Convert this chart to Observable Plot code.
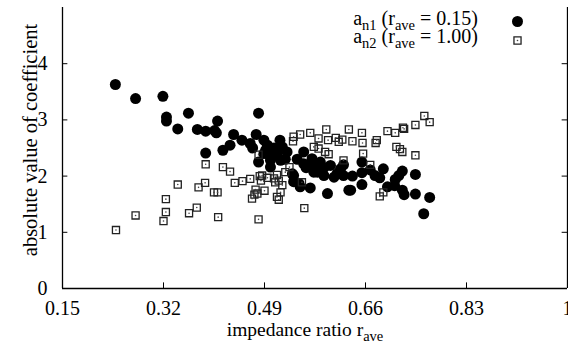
<!DOCTYPE html>
<html>
<head>
<meta charset="utf-8">
<script src="https://cdn.jsdelivr.net/npm/d3@7"></script>
<script src="https://cdn.jsdelivr.net/npm/@observablehq/plot@0.6"></script>
<style>
  html, body { margin: 0; padding: 0; background: #fff; overflow: hidden; }
  svg { display: block; }
</style>
</head>
<body>
<div id="chart"></div>
<script>
// ---- data ----
const an1R = [0.239,0.273,0.319,0.325,0.325,0.362,0.344,0.377,0.391,0.411,0.406,0.409,0.438,0.432,0.420,0.391,0.452,0.480,0.476,0.466,0.489,0.516,0.492,0.506,0.528,0.480,0.500,0.511,0.556,0.556,0.570,0.584,0.601,0.618,0.573,0.590,0.607,0.623,0.539,0.539,0.550,0.567,0.596,0.632,0.500,0.489,0.511,0.517,0.537,0.548,0.573,0.579,0.612,0.470,0.495,0.520,0.500,0.525,0.545,0.560,0.590,0.654,0.654,0.668,0.690,0.676,0.684,0.722,0.716,0.710,0.744,0.623,0.638,0.635,0.654,0.697,0.709,0.722,0.725,0.744,0.768,0.758];
const an1V = [3.63,3.38,3.42,3.05,2.98,3.12,2.84,2.83,2.80,2.98,2.81,2.77,2.74,2.55,2.46,2.41,2.64,3.12,2.74,2.58,2.64,2.64,2.46,2.50,2.43,2.25,2.28,2.37,2.43,2.22,2.31,2.25,2.19,2.13,2.07,2.01,1.98,2.01,2.01,1.90,1.81,1.79,1.69,1.75,2.16,2.40,2.40,2.28,2.04,1.87,2.19,2.07,2.04,2.50,2.55,2.52,2.35,2.30,2.30,2.15,2.15,2.25,2.06,2.11,2.13,2.01,1.97,2.09,2.01,1.94,2.03,2.20,2.00,1.75,1.85,1.81,1.83,1.75,1.67,1.68,1.62,1.33];
const an2R = [0.240,0.273,0.320,0.324,0.324,0.344,0.363,0.376,0.379,0.390,0.391,0.405,0.411,0.412,0.420,0.432,0.440,0.453,0.466,0.469,0.473,0.475,0.478,0.480,0.480,0.482,0.486,0.484,0.490,0.495,0.506,0.508,0.511,0.514,0.511,0.514,0.517,0.520,0.525,0.532,0.538,0.539,0.550,0.553,0.557,0.567,0.573,0.581,0.581,0.592,0.594,0.597,0.598,0.610,0.615,0.621,0.623,0.632,0.638,0.654,0.655,0.656,0.668,0.677,0.679,0.684,0.690,0.697,0.710,0.712,0.718,0.722,0.723,0.725,0.744,0.744,0.759,0.768];
const an2V = [1.04,1.30,1.20,1.36,1.59,1.85,1.34,1.44,1.80,1.88,2.21,1.71,1.71,1.27,2.16,2.08,1.88,1.91,1.95,1.60,1.67,1.76,1.69,2.38,1.23,2.00,2.01,1.92,1.74,1.97,1.96,1.89,2.02,1.92,1.63,1.58,1.71,1.84,2.07,2.16,2.62,2.70,2.74,1.89,1.43,2.77,2.52,2.67,2.49,2.43,2.83,2.64,2.39,2.68,2.61,2.65,2.28,2.83,2.62,2.77,2.59,2.40,2.20,2.59,2.64,1.64,1.71,2.80,2.77,2.52,2.48,2.43,2.86,2.84,2.91,2.37,3.07,2.96];
const xTicks = [0.15, 0.32, 0.49, 0.66, 0.83, 1];
const xTickLabels = ["0.15", "0.32", "0.49", "0.66", "0.83", "1"];
const yTicks = [0, 1, 2, 3, 4];
const yTickLabels = ["0", "1", "2", "3", "4"];
const xDomain = [0.15, 1];
const yDomain = [0, 5];

const an1 = an1R.map((r, i) => ({r, v: an1V[i]}));
const an2 = an2R.map((r, i) => ({r, v: an2V[i]}));

const FONT = "'Liberation Serif', 'DejaVu Serif', serif";
const tickLenX = 0.009 * (xDomain[1] - xDomain[0]) / 0.85;
const tickLenY = 0.1;

const plot = Plot.plot({
  width: 568,
  height: 353,
  marginLeft: 62,
  marginRight: 1,
  marginTop: 7,
  marginBottom: 65,
  x: {domain: xDomain},
  y: {domain: yDomain},
  style: {fontFamily: FONT, fontSize: "20px", color: "#000", background: "#fff", overflow: "visible"},
  marks: [
    // frame lines (left, right, bottom)
    Plot.ruleX([xDomain[0], xDomain[1]], {stroke: "#000", strokeWidth: 1.3}),
    Plot.ruleY([yDomain[0]], {stroke: "#000", strokeWidth: 1.3}),
    // inward ticks
    Plot.ruleX(xTicks, {x: d => d, y1: yDomain[0], y2: yDomain[0] + tickLenY, stroke: "#000", strokeWidth: 1}),
    Plot.ruleY(yTicks, {y: d => d, x1: xDomain[0], x2: xDomain[0] + tickLenX, stroke: "#000", strokeWidth: 1}),
    Plot.ruleY(yTicks, {y: d => d, x1: xDomain[1] - tickLenX, x2: xDomain[1], stroke: "#000", strokeWidth: 1}),
    Plot.axisX(xTicks, {tickSize: 0, tickPadding: 12, tickFormat: (d, i) => xTickLabels[i], label: null, fontSize: 20}),
    Plot.axisY(yTicks, {tickSize: 0, tickPadding: 15, tickFormat: (d, i) => yTickLabels[i], label: null, fontSize: 20}),
    // data
    Plot.dot(an1, {x: "r", y: "v", r: 5.5, fill: "#000", stroke: "none"}),
    Plot.dot(an2, {x: "r", y: "v", r: 4, symbol: "square", fill: "none", stroke: "#222", strokeWidth: 1.3}),
    Plot.dot(an2, {x: "r", y: "v", r: 0.8, fill: "#444", stroke: "none"}),
    // legend markers
    Plot.dot([0], {frameAnchor: "top-right", dx: -50, dy: 14, r: 5.5, fill: "#000", stroke: "none"}),
    Plot.dot([0], {frameAnchor: "top-right", dx: -50, dy: 33, r: 4, symbol: "square", fill: "none", stroke: "#222", strokeWidth: 1.3}),
    Plot.dot([0], {frameAnchor: "top-right", dx: -50, dy: 33, r: 0.8, fill: "#444", stroke: "none"})
  ]
});

document.getElementById("chart").appendChild(plot);

const svg = d3.select(plot);
const g = svg.append("g").attr("font-family", FONT).attr("fill", "#000");

function subText(parent, parts, x, y, anchor, size, subSize) {
  const t = parent.append("text").attr("x", x).attr("y", y).attr("text-anchor", anchor).attr("font-size", size);
  let shifted = false;
  parts.forEach(([s, sub]) => {
    const ts = t.append("tspan").text(s);
    if (sub && !shifted) { ts.attr("dy", 5).attr("font-size", subSize); shifted = true; }
    else if (!sub && shifted) { ts.attr("dy", -5); shifted = false; }
  });
  return t;
}

// y-axis label
g.append("text")
  .attr("transform", "translate(37,140) rotate(-90)")
  .attr("text-anchor", "middle")
  .attr("font-size", 20.5)
  .text("absolute value of coefficient");

// x-axis label
subText(g, [["impedance ratio r", false], ["ave", true]], 305, 336, "middle", 19.5, 14.5);

// legend
subText(g, [["a", false], ["n1", true], [" (r", false], ["ave", true], [" = 0.15)", false]], 478, 25, "end", 20, 14.5);
subText(g, [["a", false], ["n2", true], [" (r", false], ["ave", true], [" = 1.00)", false]], 478, 43, "end", 20, 14.5);
</script>
</body>
</html>
